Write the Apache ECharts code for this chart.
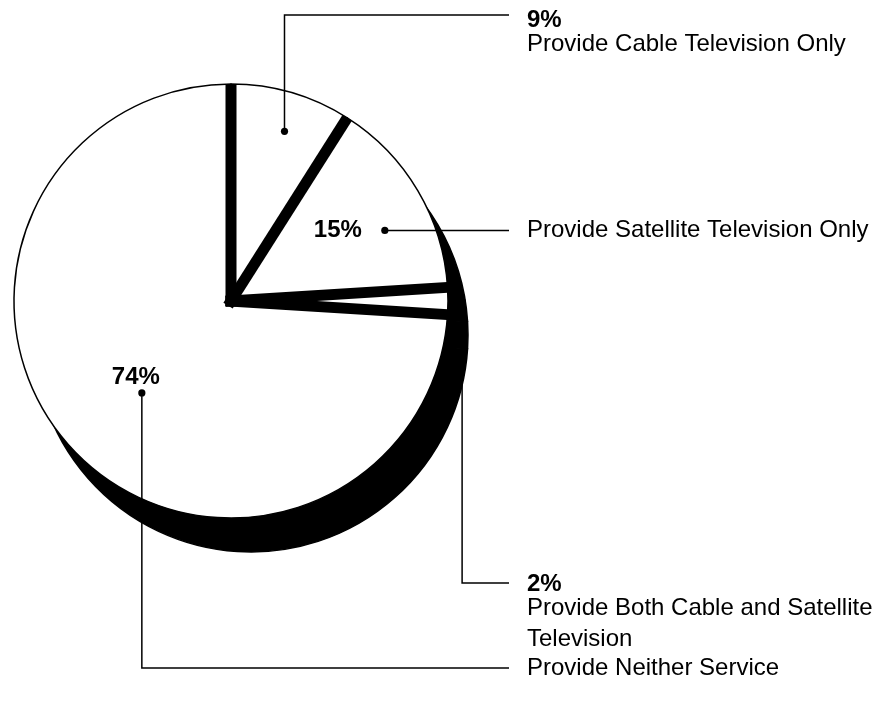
<!DOCTYPE html>
<html><head><meta charset="utf-8">
<script src="https://cdn.jsdelivr.net/npm/echarts@6/dist/echarts.min.js"></script>
<style>html,body{margin:0;padding:0;background:#fff}#c{width:884px;height:702px}</style>
</head><body><div id="c"></div>
<script>
// ---- data ----
const categories = ['Provide Cable Television Only', 'Provide Satellite Television Only', 'Provide Both Cable and Satellite Television', 'Provide Neither Service'];
const values = [9, 15, 2, 74];
const percentLabels = ['9%', '15%', '2%', '74%'];
const descLines = [['Provide Cable Television Only'], ['Provide Satellite Television Only'], ['Provide Both Cable and Satellite', 'Television'], ['Provide Neither Service']];

// ---- layout (not data) ----
const CENTER = [231, 301];
const RADIUS = 217;
const SHADOW_CENTER = [251, 335];
const anchorRadius = [0.82, 0.78, 1.065, 0.59];   // fraction of radius where the dot sits
const anchorPos = [0.54, 0.61, 0.5, 0.49];        // fraction along the slice's sweep
const leaderRowY = [15, null, 583, 668];
const TEXT_X = 527, LINE_END_X = 509;
const FONT = '"Liberation Sans", Arial, Helvetica, sans-serif';

const total = values.reduce((a, b) => a + b, 0);
const bounds = [];
let acc = 0;
values.forEach(v => { bounds.push([acc, acc + v]); acc += v; });

const pieData = categories.map((c, i) => ({ name: c, value: values[i] }));

const chart = echarts.init(document.getElementById('c'), null, { renderer: 'canvas' });

function renderItem(params, api) {
  const i = params.dataIndex;
  const start = api.value(0), end = api.value(1);
  const ch = [];
  // black gap strip at the start boundary of this slice
  const c = api.coord([0, start]);
  const r = api.coord([1, start]);
  const dx = r[0] - c[0], dy = r[1] - c[1];
  const len = Math.hypot(dx, dy);
  const ux = dx / len, uy = dy / len;
  ch.push({ type: 'line', shape: { x1: c[0] - ux * 5.5, y1: c[1] - uy * 5.5, x2: r[0], y2: r[1] },
    style: { stroke: '#000', lineWidth: 11, lineCap: 'butt' } });
  // anchor dot
  const a = start + (end - start) * anchorPos[i];
  const d = api.coord([anchorRadius[i], a]);
  ch.push({ type: 'circle', shape: { cx: d[0], cy: d[1], r: 3.6 }, style: { fill: '#000' } });
  // leader line
  const rowY = leaderRowY[i] == null ? d[1] : leaderRowY[i];
  const pts = leaderRowY[i] == null ? [[d[0], d[1]], [LINE_END_X, d[1]]] : [[d[0], d[1]], [d[0], rowY], [LINE_END_X, rowY]];
  ch.push({ type: 'polyline', shape: { points: pts }, style: { stroke: '#000', lineWidth: 1.5, fill: null } });
  // texts
  const bold = 'bold 24px ' + FONT, norm = '24px ' + FONT;
  if (i === 0 || i === 2) {
    const y0 = rowY + (i === 0 ? 5 : 1);
    ch.push({ type: 'text', style: { text: percentLabels[i], x: TEXT_X, y: y0, font: bold, fill: '#000', align: 'left', verticalAlign: 'middle' } });
    descLines[i].forEach((t, k) => {
      ch.push({ type: 'text', style: { text: t, x: TEXT_X, y: y0 + 24 + k * 31, font: norm, fill: '#000', align: 'left', verticalAlign: 'middle' } });
    });
  } else if (i === 1) {
    ch.push({ type: 'text', style: { text: percentLabels[i], x: d[0] - 23, y: d[1], font: bold, fill: '#000', align: 'right', verticalAlign: 'middle' } });
    ch.push({ type: 'text', style: { text: descLines[i][0], x: TEXT_X, y: rowY, font: norm, fill: '#000', align: 'left', verticalAlign: 'middle' } });
  } else {
    ch.push({ type: 'text', style: { text: percentLabels[i], x: d[0] - 6, y: d[1] - 16, font: bold, fill: '#000', align: 'center', verticalAlign: 'middle' } });
    ch.push({ type: 'text', style: { text: descLines[i][0], x: TEXT_X, y: rowY, font: norm, fill: '#000', align: 'left', verticalAlign: 'middle' } });
  }
  return { type: 'group', children: ch };
}

chart.setOption({
  backgroundColor: '#fff',
  animation: false,
  polar: { center: CENTER, radius: RADIUS },
  angleAxis: { type: 'value', min: 0, max: total, startAngle: 90, clockwise: true, show: false },
  radiusAxis: { type: 'value', min: 0, max: 1, show: false },
  series: [
    {
      type: 'pie', name: 'shadow', z: 1, silent: true,
      center: SHADOW_CENTER, radius: RADIUS, startAngle: 90, clockwise: true,
      label: { show: false }, labelLine: { show: false },
      itemStyle: { color: '#000', borderColor: '#000', borderWidth: 1.5 },
      emphasis: { disabled: true },
      data: pieData
    },
    {
      type: 'pie', name: 'main', z: 2, silent: true,
      center: CENTER, radius: RADIUS, startAngle: 90, clockwise: true,
      label: { show: false }, labelLine: { show: false },
      itemStyle: { color: '#fff', borderColor: '#000', borderWidth: 1.5 },
      emphasis: { disabled: true },
      data: pieData
    },
    {
      type: 'custom', name: 'annotations', z: 5, silent: true,
      coordinateSystem: 'polar', polarIndex: 0,
      renderItem: renderItem,
      data: bounds
    }
  ]
});
</script>
</body></html>
